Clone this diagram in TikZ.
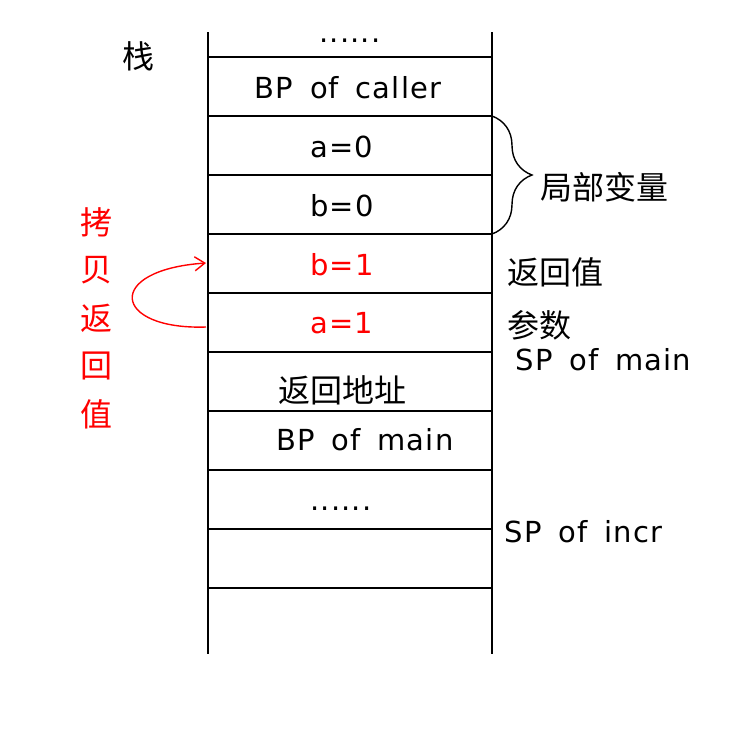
\documentclass[tikz,border=0pt]{standalone}
\usepackage{fontspec}
\setmainfont{DejaVu Sans}[LetterSpace=4,WordSpace=1.6]
\newfontfamily\cjk{Noto Sans CJK SC}
\usetikzlibrary{decorations.pathreplacing,positioning,arrows.meta}

\begin{document}
\begin{tikzpicture}[x=0.5pt,y=-0.5pt,line width=0.9pt]
\tikzstyle{every node}+=[inner sep=0pt]
\tikzstyle{cell}=[font=\fontsize{14.5}{16}\selectfont,anchor=base]
\tikzstyle{hanzi}=[font=\cjk\fontsize{16}{18}\selectfont]
\tikzstyle{copy}=[red]
\useasboundingbox (0,0) rectangle (754,746);
% the stack frame
\draw (208,32) -- (208,654);
\draw (492,32) -- (492,654);
\foreach \y in {57,116,...,588}
  \draw (208,\y) -- (492,\y);
\node [hanzi] (stack) at (138,56) {栈};
\node [cell] (top) at (350,42) {......};
\node [cell] (bpcaller) at (348,98) {BP of caller};
\node [cell] (azero) at (342,157) {a=0};
\node [cell] (bzero) at (342,216) {b=0};
\node [cell,copy] (bone) at (342,275) {b=1};
\node [cell,copy] (aone) at (342,333) {a=1};
\node [hanzi] (retaddr) at (342,390) {返回地址};
\node [cell] (bpmain) at (365,450) {BP of main};
\node [cell] (more) at (341,510) {......};
% labels on the right
\draw [line width=0.7pt,decorate,decoration={brace,amplitude=20pt}] (492,116) -- (492,234);
\node [hanzi,anchor=west] (locals) at (540,187) {局部变量};
\node [hanzi,anchor=west] (retval) at (507,272) {返回值};
\node [hanzi,anchor=west] (args) at (507,325) {参数};
\node [cell,anchor=base west] (spmain) at (515,370) {SP of main};
\node [cell,anchor=base west] (spincr) at (504,542) {SP of incr};
% copying the return value
\node [hanzi,copy] (c1) at (96,222) {拷};
\node [hanzi,copy] (c2) at (96,270) {贝};
\node [hanzi,copy] (c3) at (96,318) {返};
\node [hanzi,copy] (c4) at (96,366) {回};
\node [hanzi,copy] (c5) at (96,414) {值};
\coordinate (from) at (206,327);
\coordinate (to) at (206,263);
\draw [copy,line width=0.7pt,-{Straight Barb[length=5pt,width=7pt]}]
  (from) .. controls (112,330) and (104,270) .. (to);
\end{tikzpicture}
\end{document}
